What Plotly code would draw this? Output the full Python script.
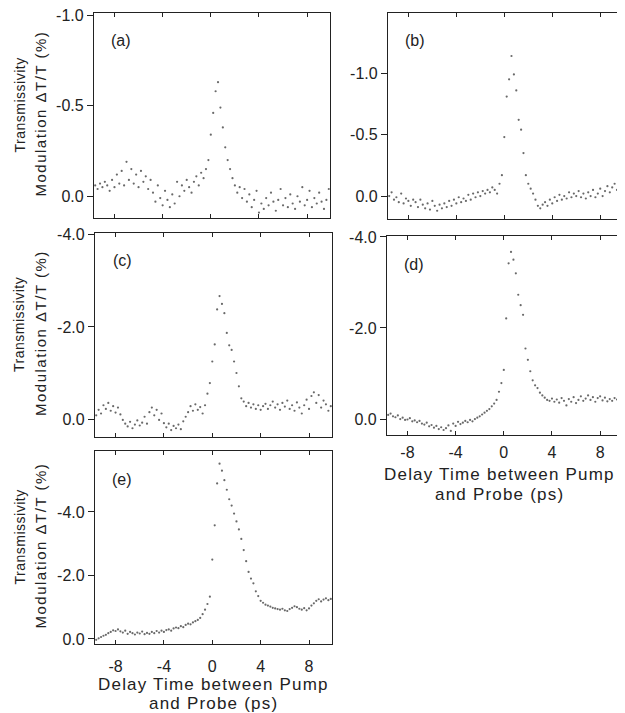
import plotly.graph_objects as go

# delay time between pump and probe (ps), shared by all five scans
DELAY_PS = [-9.6, -9.4, -9.2, -9.0, -8.8, -8.6, -8.4, -8.2, -8.0, -7.8,
            -7.6, -7.4, -7.2, -7.0, -6.8, -6.6, -6.4, -6.2, -6.0, -5.8,
            -5.6, -5.4, -5.2, -5.0, -4.8, -4.6, -4.4, -4.2, -4.0, -3.8,
            -3.6, -3.4, -3.2, -3.0, -2.8, -2.6, -2.4, -2.2, -2.0, -1.8,
            -1.6, -1.4, -1.2, -1.0, -0.8, -0.6, -0.4, -0.2, 0.0, 0.2,
            0.4, 0.6, 0.8, 1.0, 1.2, 1.4, 1.6, 1.8, 2.0, 2.2,
            2.4, 2.6, 2.8, 3.0, 3.2, 3.4, 3.6, 3.8, 4.0, 4.2,
            4.4, 4.6, 4.8, 5.0, 5.2, 5.4, 5.6, 5.8, 6.0, 6.2,
            6.4, 6.6, 6.8, 7.0, 7.2, 7.4, 7.6, 7.8, 8.0, 8.2,
            8.4, 8.6, 8.8, 9.0, 9.2, 9.4, 9.6, 9.8]

# transmissivity modulation dT/T (%)
DT_A = [-0.06, -0.04, -0.07, -0.05, -0.08, -0.06, -0.03, -0.09, -0.05, -0.12, -0.07,
        -0.14, -0.06, -0.19, -0.09, -0.15, -0.07, -0.12, -0.05, -0.14, -0.08, -0.11,
        -0.04, -0.09, -0.02, 0.03, -0.06, 0.01, 0.05, -0.03, 0.02, 0.06, -0.01, 0.04,
        -0.08, 0.0, -0.06, -0.03, -0.09, -0.05, -0.02, -0.08, -0.11, -0.06, -0.13, -0.10, -0.15, -0.2,
        -0.34, -0.46, -0.58, -0.63, -0.49, -0.38, -0.27, -0.20, -0.15, -0.10, -0.06,
        -0.02, -0.05, 0.01, -0.04, 0.03, -0.01, 0.06, 0.02, -0.03, 0.09,
        0.04, 0.07, 0.01, 0.05, -0.02, 0.03, 0.08, 0.02, -0.04, 0.05,
        0.01, 0.06, -0.01, 0.04, 0.07, 0.0, 0.03, -0.05, 0.05, 0.02,
        -0.03, 0.06, 0.01, 0.04, -0.02, 0.03, 0.07, 0.02, -0.04]

DT_B = [0.0, -0.03, 0.03, 0.01, 0.05, -0.02, 0.06, 0.02, 0.04, 0.08, 0.03,
        0.05, 0.09, 0.03, 0.07, 0.1, 0.06, 0.11, 0.04, 0.08, 0.12, 0.07,
        0.1, 0.06, 0.09, 0.04, 0.08, 0.03, 0.06, 0.01, 0.05, 0.02, 0.04, -0.01,
        0.03, -0.02, 0.01, -0.03, 0.0, -0.04, -0.02, -0.05, -0.03, -0.07, -0.05, -0.02, -0.1, -0.17,
        -0.48, -0.81, -0.95, -1.14, -0.99, -0.86, -0.62, -0.54, -0.35, -0.17, -0.1,
        -0.06, -0.02, 0.03, 0.08, 0.1, 0.07, 0.05, 0.08, 0.03, 0.06,
        0.01, 0.04, -0.01, 0.03, 0.0, 0.02, -0.03, 0.01, -0.02, 0.0,
        -0.04, 0.01, -0.02, 0.02, -0.03, 0.0, -0.05, 0.01, -0.02, -0.06,
        0.0, -0.04, -0.08, -0.03, -0.07, -0.1, -0.05, -0.16, -0.27]

DT_C = [-0.08, -0.2, -0.12, -0.3, -0.22, -0.35, -0.18, -0.28, -0.14, -0.25, -0.1,
        0.02, 0.1, 0.16, 0.06, 0.2, 0.12, 0.03, 0.14, 0.08, -0.05, 0.1,
        -0.15, -0.25, -0.08, -0.2, 0.02, -0.12, 0.09, 0.18, 0.1, 0.24, 0.15, 0.2,
        0.12, 0.22, 0.05, -0.05, -0.15, -0.28, -0.18, -0.32, -0.2, -0.26, -0.12, -0.3, -0.55, -0.78,
        -1.25, -1.62, -2.38, -2.67, -2.5, -2.3, -1.87, -1.6, -1.5, -1.25, -1.0,
        -0.71, -0.45, -0.38, -0.28, -0.35, -0.25, -0.32, -0.22, -0.3, -0.2,
        -0.28, -0.33, -0.22, -0.3, -0.38, -0.25, -0.32, -0.2, -0.35, -0.27,
        -0.4, -0.22, -0.3, -0.18, -0.36, -0.25, -0.12, -0.3, -0.42, -0.22,
        -0.5, -0.58, -0.35, -0.52, -0.25, -0.4, -0.32, -0.18, -0.28]

DT_D = [-0.09, -0.12, -0.06, -0.04, -0.08, 0.0, -0.03, 0.02, 0.01, -0.02, 0.05,
        0.03, 0.07, 0.04, 0.1, 0.12, 0.08, 0.16, 0.13, 0.19, 0.15, 0.22,
        0.18, 0.24, 0.2, 0.14, 0.26, 0.1, 0.15, 0.06, 0.11, 0.08, 0.04, 0.07,
        0.02, 0.05, 0.0, -0.03, -0.06, -0.1, -0.14, -0.18, -0.22, -0.28, -0.34, -0.42, -0.6, -0.79,
        -1.08, -2.21, -3.42, -3.67, -3.5, -3.2, -2.73, -2.5, -2.29, -1.55, -1.3,
        -1.05, -0.85, -0.74, -0.68, -0.58, -0.52, -0.47, -0.42, -0.4, -0.45,
        -0.38, -0.43, -0.36, -0.46, -0.4, -0.3, -0.44, -0.38, -0.48, -0.35,
        -0.42, -0.5, -0.4, -0.45, -0.52, -0.42, -0.48, -0.38, -0.46, -0.5,
        -0.41, -0.47, -0.39, -0.44, -0.4, -0.46, -0.43, -0.52, -0.6]

DT_E = [0.03, -0.02, -0.06, -0.1, -0.13, -0.18, -0.22, -0.27, -0.25, -0.3, -0.24,
        -0.2, -0.26, -0.16, -0.22, -0.18, -0.14, -0.2, -0.17, -0.23, -0.15, -0.19,
        -0.16, -0.22, -0.18, -0.25, -0.2, -0.26, -0.22, -0.28, -0.3, -0.26, -0.33, -0.36,
        -0.34, -0.4, -0.37, -0.44, -0.48, -0.46, -0.52, -0.56, -0.6, -0.66, -0.78, -0.92, -1.1, -1.33,
        -2.5, -3.58, -4.9, -5.52, -5.3, -5.0, -4.7, -4.4, -4.2, -3.95, -3.7,
        -3.45, -3.15, -2.8, -2.45, -2.11, -1.9, -1.75, -1.5, -1.35, -1.2,
        -1.14, -1.08, -1.05, -1.02, -0.98, -0.96, -0.94, -0.92, -0.95, -0.9,
        -0.88, -0.94, -0.98, -1.03, -1.0, -0.95, -0.92, -0.97, -0.9, -0.96,
        -1.05, -1.12, -1.2, -1.25, -1.18, -1.24, -1.28, -1.22, -1.26]

PANEL_LABELS = ['(a)', '(b)', '(c)', '(d)', '(e)']
X_TICKS = [-8, -4, 0, 4, 8]
X_TICK_TEXT = ['-8', '-4', '0', '4', '8']
Y_TICKS = [[-1.0, -0.5, 0.0], [-1.0, -0.5, 0.0], [-4.0, -2.0, 0.0], [-4.0, -2.0, 0.0], [-4.0, -2.0, 0.0]]
Y_TICK_TEXT = [['-1.0', '-0.5', '0.0'], ['-1.0', '-0.5', '0.0'], ['-4.0', '-2.0', '0.0'],
               ['-4.0', '-2.0', '0.0'], ['-4.0', '-2.0', '0.0']]

# the page body has an 8px margin, so the figure is sized to fit inside the window
W, H = 617, 705
FONT = 'Liberation Sans'
INK = '#222'

# panel frames in figure pixels: left, right, top, bottom
frames = [(86, 322, 5, 210), (380, 615, 5, 211), (87, 324, 225, 429),
          (379, 615, 228, 427), (87, 324, 443, 636)]
y_ranges = [[0.12, -1.012], [0.187, -1.49], [0.39, -4.04], [0.35, -4.02], [0.16, -5.92]]
x_range = [-9.7, 9.9]
label_standoff = [0, 0, 0, 3, 8]
series = [DT_A, DT_B, DT_C, DT_D, DT_E]
for s in series:
    assert len(s) == len(DELAY_PS)


def spaced(text, px):
    return '<span style="letter-spacing:%spx">%s</span>' % (px, text)


def note(text, x, y, size, angle=0):
    return dict(text=text, xref='paper', yref='paper', x=x / W, y=1 - y / H,
                xanchor='center', yanchor='middle', showarrow=False, textangle=angle,
                font=dict(size=size, family=FONT, color=INK))


fig = go.Figure()
layout = dict(width=W, height=H, margin=dict(l=0, r=0, t=0, b=0),
              paper_bgcolor='white', plot_bgcolor='white', showlegend=False,
              font=dict(family=FONT, size=14, color=INK))
annotations = []

for i, (l, r, t, b) in enumerate(frames):
    n = i + 1
    sfx = '' if n == 1 else str(n)
    fig.add_trace(go.Scatter(
        x=DELAY_PS, y=series[i], mode='markers', xaxis='x' + sfx, yaxis='y' + sfx,
        marker=dict(size=2.2, color='#444', opacity=0.8)))
    show_x = n in (4, 5)
    layout['xaxis' + sfx] = dict(
        domain=[l / W, r / W], anchor='y' + sfx, range=x_range, automargin=False,
        showgrid=False, zeroline=False, showline=True, linecolor=INK, linewidth=1.3,
        mirror='ticks', ticks='inside', ticklen=4, tickcolor=INK,
        tickvals=X_TICKS, ticktext=X_TICK_TEXT, showticklabels=show_x,
        ticklabelstandoff=label_standoff[i], tickfont=dict(size=16))
    layout['yaxis' + sfx] = dict(
        domain=[1 - b / H, 1 - t / H], anchor='x' + sfx, range=y_ranges[i], automargin=False,
        showgrid=False, zeroline=False, showline=True, linecolor=INK, linewidth=1.3,
        mirror=True, ticks='outside', ticklen=6, tickcolor=INK, ticklabeloverflow='allow',
        tickvals=Y_TICKS[i], ticktext=Y_TICK_TEXT[i], tickfont=dict(size=16))
    # inward ticks on the right-hand frame edge
    layout['yaxis' + str(n + 5)] = dict(
        overlaying='y' + sfx, anchor='x' + sfx, side='right', range=y_ranges[i],
        automargin=False, showgrid=False, zeroline=False, showline=False,
        ticks='inside', ticklen=6, tickcolor=INK, tickvals=Y_TICKS[i],
        showticklabels=False)
    annotations.append(note(PANEL_LABELS[i], l + 27, t + 28, 16))

# y titles on the left column, one per row of panels
for l, r, t, b in (frames[0], frames[2], frames[4]):
    yc = (t + b) / 2
    annotations.append(note(spaced('Transmissivity', 0.5), 11, yc - 10, 14, -90))
    annotations.append(note(spaced('Modulation ΔT/T (%)', 1.5), 32, yc - 2, 15, -90))

# x titles under (d) and (e), one annotation per line
for xc, yc in ((491, 467), (205, 676)):
    annotations.append(note(spaced('Delay Time between Pump', 1.2), xc, yc, 17))
    annotations.append(note(spaced('and Probe (ps)', 1.2), xc, yc + 19, 17))

layout['annotations'] = annotations
fig.update_layout(**layout)
fig.write_html("out.html")
